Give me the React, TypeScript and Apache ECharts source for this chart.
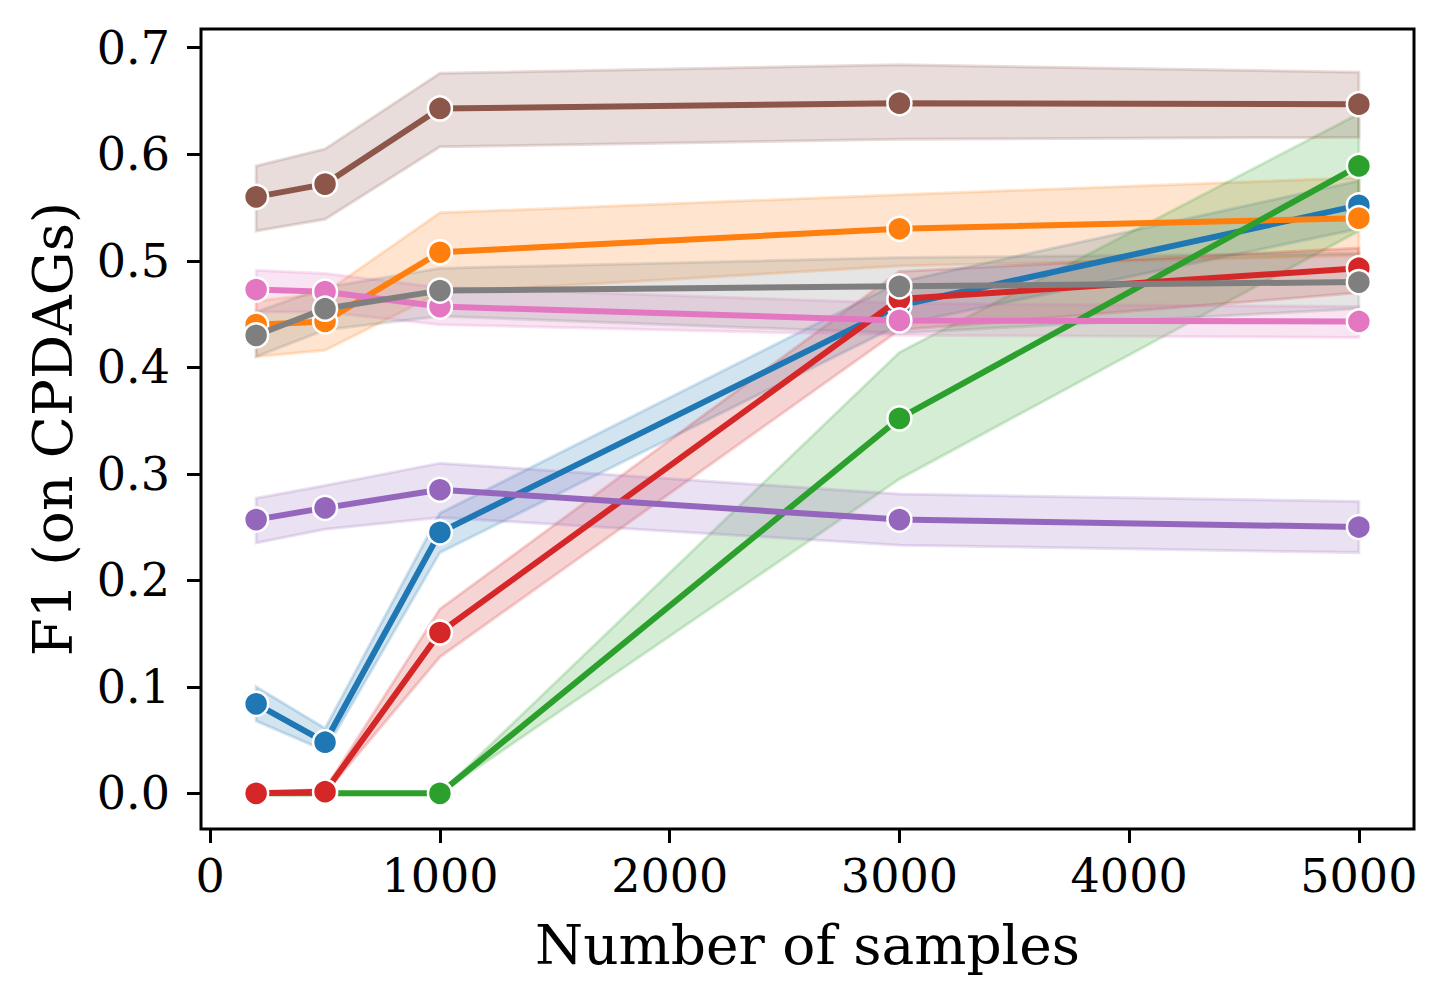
import React, { useEffect, useRef } from "react";
import * as echarts from "echarts";

const SAMPLES = [200, 500, 1000, 3000, 5000];
const X_TICKS = [0, 1000, 2000, 3000, 4000, 5000];
const Y_TICKS = [0, 0.1, 0.2, 0.3, 0.4, 0.5, 0.6, 0.7];

const BLUE_MEAN = [0.084, 0.048, 0.245, 0.458, 0.552];
const BLUE_LO = [0.068, 0.04, 0.226, 0.44, 0.53];
const BLUE_HI = [0.1, 0.061, 0.263, 0.48, 0.575];

const ORANGE_MEAN = [0.44, 0.443, 0.508, 0.53, 0.54];
const ORANGE_LO = [0.41, 0.416, 0.47, 0.495, 0.505];
const ORANGE_HI = [0.462, 0.47, 0.545, 0.562, 0.578];

const GREEN_MEAN = [0, 0, 0, 0.352, 0.589];
const GREEN_LO = [0, 0, 0, 0.295, 0.528];
const GREEN_HI = [0, 0, 0, 0.414, 0.638];

const RED_MEAN = [0, 0.0015, 0.151, 0.464, 0.493];
const RED_LO = [0, 0, 0.128, 0.435, 0.47];
const RED_HI = [0, 0.004, 0.173, 0.49, 0.512];

const PURPLE_MEAN = [0.257, 0.268, 0.285, 0.257, 0.25];
const PURPLE_LO = [0.235, 0.248, 0.259, 0.233, 0.226];
const PURPLE_HI = [0.277, 0.289, 0.31, 0.281, 0.274];

const BROWN_MEAN = [0.56, 0.572, 0.643, 0.648, 0.647];
const BROWN_LO = [0.528, 0.539, 0.607, 0.614, 0.616];
const BROWN_HI = [0.589, 0.605, 0.676, 0.684, 0.677];

const PINK_MEAN = [0.473, 0.471, 0.457, 0.444, 0.443];
const PINK_LO = [0.452, 0.452, 0.44, 0.43, 0.428];
const PINK_HI = [0.491, 0.488, 0.475, 0.46, 0.457];

const GRAY_MEAN = [0.43, 0.455, 0.472, 0.476, 0.48];
const GRAY_LO = [0.41, 0.435, 0.448, 0.432, 0.455];
const GRAY_HI = [0.452, 0.475, 0.493, 0.503, 0.507];

const GROUPS = [
  { name: "blue", color: "#1f77b4", mean: BLUE_MEAN, lo: BLUE_LO, hi: BLUE_HI },
  { name: "orange", color: "#ff7f0e", mean: ORANGE_MEAN, lo: ORANGE_LO, hi: ORANGE_HI },
  { name: "green", color: "#2ca02c", mean: GREEN_MEAN, lo: GREEN_LO, hi: GREEN_HI },
  { name: "red", color: "#d62728", mean: RED_MEAN, lo: RED_LO, hi: RED_HI },
  { name: "purple", color: "#9467bd", mean: PURPLE_MEAN, lo: PURPLE_LO, hi: PURPLE_HI },
  { name: "brown", color: "#8c564b", mean: BROWN_MEAN, lo: BROWN_LO, hi: BROWN_HI },
  { name: "pink", color: "#e377c2", mean: PINK_MEAN, lo: PINK_LO, hi: PINK_HI },
  { name: "gray", color: "#7f7f7f", mean: GRAY_MEAN, lo: GRAY_LO, hi: GRAY_HI },
];

const FONT = "DejaVu Serif";

function rgba(hex: string, a: number) {
  const r = parseInt(hex.slice(1, 3), 16);
  const g = parseInt(hex.slice(3, 5), 16);
  const b = parseInt(hex.slice(5, 7), 16);
  return `rgba(${r},${g},${b},${a})`;
}

export default function App() {
  const ref = useRef<HTMLDivElement>(null);
  useEffect(() => {
    if (!ref.current) return;
    const chart = echarts.init(ref.current, null, { renderer: "svg" });

    const bandSeries = GROUPS.map((g) => ({
      type: "custom",
      name: g.name + " band",
      z: 1,
      silent: true,
      data: SAMPLES.map((x, i) => [x, g.lo[i], g.hi[i]]),
      encode: { x: 0, y: [1, 2] },
      renderItem: (params: any, api: any) => {
        if (params.dataIndex !== 0) return null;
        const pts: number[][] = [];
        for (let i = 0; i < SAMPLES.length; i++) pts.push(api.coord([SAMPLES[i], g.hi[i]]));
        for (let i = SAMPLES.length - 1; i >= 0; i--) pts.push(api.coord([SAMPLES[i], g.lo[i]]));
        return {
          type: "polygon",
          shape: { points: pts },
          style: { fill: rgba(g.color, 0.2), stroke: rgba(g.color, 0.2), lineWidth: 3 },
        };
      },
    }));

    const lineSeries = GROUPS.map((g, k) => ({
      type: "line",
      name: g.name,
      z: 10 + k,
      data: SAMPLES.map((x, i) => [x, g.mean[i]]),
      symbol: "circle",
      symbolSize: 24,
      showSymbol: true,
      lineStyle: { color: g.color, width: 6 },
      itemStyle: { color: g.color, borderColor: "#ffffff", borderWidth: 2.5 },
      emphasis: { disabled: true },
    }));

    chart.setOption({
      animation: false,
      backgroundColor: "#ffffff",
      grid: {
        left: 201,
        right: 33,
        top: 29,
        bottom: 174,
        show: true,
        borderColor: "#000000",
        borderWidth: 3,
        backgroundColor: "transparent",
      },
      xAxis: {
        type: "value",
        position: "bottom",
        min: -40,
        max: 5240,
        axisLine: { show: false, onZero: false },
        axisTick: {
          show: true,
          inside: false,
          length: 14,
          customValues: X_TICKS,
          lineStyle: { color: "#000000", width: 3 },
        },
        axisLabel: {
          fontFamily: FONT,
          fontSize: 46,
          color: "#000000",
          margin: 24,
          customValues: X_TICKS,
          formatter: (v: number) => String(v),
        },
        splitLine: { show: false },
        name: "Number of samples",
        nameLocation: "middle",
        nameGap: 88,
        nameTextStyle: { fontFamily: FONT, fontSize: 55, color: "#000000" },
      },
      yAxis: {
        type: "value",
        position: "left",
        min: -0.0335,
        max: 0.7176,
        axisLine: { show: false, onZero: false },
        axisTick: {
          show: true,
          inside: false,
          length: 14,
          customValues: Y_TICKS,
          lineStyle: { color: "#000000", width: 3 },
        },
        axisLabel: {
          fontFamily: FONT,
          fontSize: 46,
          color: "#000000",
          margin: 31,
          customValues: Y_TICKS,
          formatter: (v: number) => v.toFixed(1),
        },
        splitLine: { show: false },
        name: "F1 (on CPDAGs)",
        nameLocation: "middle",
        nameRotate: 90,
        nameGap: 121,
        nameTextStyle: { fontFamily: FONT, fontSize: 55, color: "#000000" },
      },
      series: [...bandSeries, ...lineSeries],
    });

    return () => chart.dispose();
  }, []);

  return (
    <div
      ref={ref}
      style={{ position: "fixed", left: 0, top: 0, width: 1447, height: 1003, background: "#fff" }}
    />
  );
}
